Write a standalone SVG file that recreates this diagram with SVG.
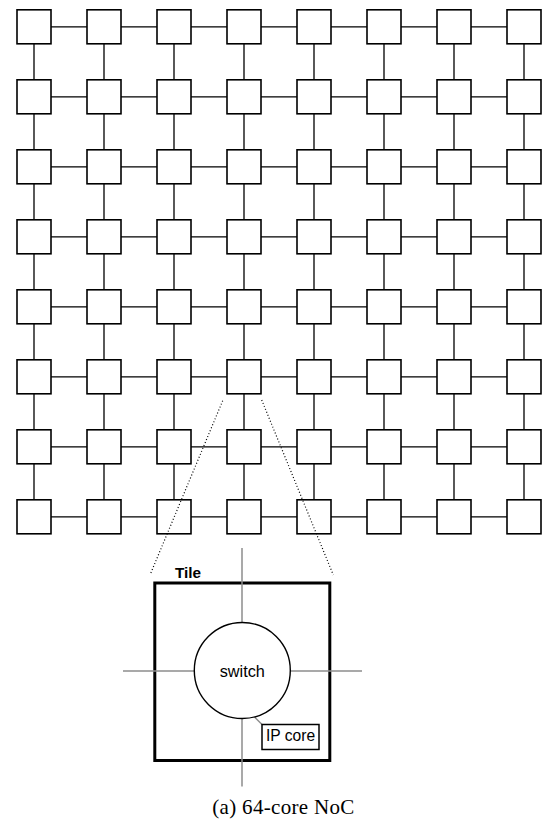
<svg xmlns="http://www.w3.org/2000/svg" xmlns:xlink="http://www.w3.org/1999/xlink" width="544" height="820" viewBox="0 0 544 820">
<style>
.sq{fill:#fff;stroke:#000;stroke-width:1.6}
.lk{fill:none;stroke:#000;stroke-width:1.3}
.dot{fill:none;stroke:#000;stroke-width:1.2;stroke-dasharray:1 2.2}
.gl{fill:none;stroke:#8c8c8c;stroke-width:1.5}
.sans{font-family:"Liberation Sans",Arial,sans-serif;fill:#000}
.serif{font-family:"Liberation Serif","Times New Roman",serif;fill:#000}
</style>
<defs>
<rect id="sq" class="sq" width="34" height="34"/>
<path id="hrow" d="M51,26.8H87M121,26.8H157M191,26.8H227M261,26.8H297M331,26.8H367M401,26.8H437M471,26.8H507"/>
<path id="vcol" d="M34,43.8V79.8M34,113.8V149.8M34,183.8V219.8M34,253.8V289.8M34,323.8V359.8M34,393.8V429.8M34,463.8V499.8"/>
</defs>
<g id="connectors" class="lk">
<use xlink:href="#hrow"/>
<use xlink:href="#hrow" y="70"/>
<use xlink:href="#hrow" y="140"/>
<use xlink:href="#hrow" y="210"/>
<use xlink:href="#hrow" y="280"/>
<use xlink:href="#hrow" y="350"/>
<use xlink:href="#hrow" y="420"/>
<use xlink:href="#hrow" y="490"/>
<use xlink:href="#vcol"/>
<use xlink:href="#vcol" x="70"/>
<use xlink:href="#vcol" x="140"/>
<use xlink:href="#vcol" x="210"/>
<use xlink:href="#vcol" x="280"/>
<use xlink:href="#vcol" x="350"/>
<use xlink:href="#vcol" x="420"/>
<use xlink:href="#vcol" x="490"/>
</g>
<g id="n0_0"><use xlink:href="#sq" x="17" y="9.8"/></g>
<g id="n0_1"><use xlink:href="#sq" x="87" y="9.8"/></g>
<g id="n0_2"><use xlink:href="#sq" x="157" y="9.8"/></g>
<g id="n0_3"><use xlink:href="#sq" x="227" y="9.8"/></g>
<g id="n0_4"><use xlink:href="#sq" x="297" y="9.8"/></g>
<g id="n0_5"><use xlink:href="#sq" x="367" y="9.8"/></g>
<g id="n0_6"><use xlink:href="#sq" x="437" y="9.8"/></g>
<g id="n0_7"><use xlink:href="#sq" x="507" y="9.8"/></g>
<g id="n1_0"><use xlink:href="#sq" x="17" y="79.8"/></g>
<g id="n1_1"><use xlink:href="#sq" x="87" y="79.8"/></g>
<g id="n1_2"><use xlink:href="#sq" x="157" y="79.8"/></g>
<g id="n1_3"><use xlink:href="#sq" x="227" y="79.8"/></g>
<g id="n1_4"><use xlink:href="#sq" x="297" y="79.8"/></g>
<g id="n1_5"><use xlink:href="#sq" x="367" y="79.8"/></g>
<g id="n1_6"><use xlink:href="#sq" x="437" y="79.8"/></g>
<g id="n1_7"><use xlink:href="#sq" x="507" y="79.8"/></g>
<g id="n2_0"><use xlink:href="#sq" x="17" y="149.8"/></g>
<g id="n2_1"><use xlink:href="#sq" x="87" y="149.8"/></g>
<g id="n2_2"><use xlink:href="#sq" x="157" y="149.8"/></g>
<g id="n2_3"><use xlink:href="#sq" x="227" y="149.8"/></g>
<g id="n2_4"><use xlink:href="#sq" x="297" y="149.8"/></g>
<g id="n2_5"><use xlink:href="#sq" x="367" y="149.8"/></g>
<g id="n2_6"><use xlink:href="#sq" x="437" y="149.8"/></g>
<g id="n2_7"><use xlink:href="#sq" x="507" y="149.8"/></g>
<g id="n3_0"><use xlink:href="#sq" x="17" y="219.8"/></g>
<g id="n3_1"><use xlink:href="#sq" x="87" y="219.8"/></g>
<g id="n3_2"><use xlink:href="#sq" x="157" y="219.8"/></g>
<g id="n3_3"><use xlink:href="#sq" x="227" y="219.8"/></g>
<g id="n3_4"><use xlink:href="#sq" x="297" y="219.8"/></g>
<g id="n3_5"><use xlink:href="#sq" x="367" y="219.8"/></g>
<g id="n3_6"><use xlink:href="#sq" x="437" y="219.8"/></g>
<g id="n3_7"><use xlink:href="#sq" x="507" y="219.8"/></g>
<g id="n4_0"><use xlink:href="#sq" x="17" y="289.8"/></g>
<g id="n4_1"><use xlink:href="#sq" x="87" y="289.8"/></g>
<g id="n4_2"><use xlink:href="#sq" x="157" y="289.8"/></g>
<g id="n4_3"><use xlink:href="#sq" x="227" y="289.8"/></g>
<g id="n4_4"><use xlink:href="#sq" x="297" y="289.8"/></g>
<g id="n4_5"><use xlink:href="#sq" x="367" y="289.8"/></g>
<g id="n4_6"><use xlink:href="#sq" x="437" y="289.8"/></g>
<g id="n4_7"><use xlink:href="#sq" x="507" y="289.8"/></g>
<g id="n5_0"><use xlink:href="#sq" x="17" y="359.8"/></g>
<g id="n5_1"><use xlink:href="#sq" x="87" y="359.8"/></g>
<g id="n5_2"><use xlink:href="#sq" x="157" y="359.8"/></g>
<g id="n5_3"><use xlink:href="#sq" x="227" y="359.8"/></g>
<g id="n5_4"><use xlink:href="#sq" x="297" y="359.8"/></g>
<g id="n5_5"><use xlink:href="#sq" x="367" y="359.8"/></g>
<g id="n5_6"><use xlink:href="#sq" x="437" y="359.8"/></g>
<g id="n5_7"><use xlink:href="#sq" x="507" y="359.8"/></g>
<g id="n6_0"><use xlink:href="#sq" x="17" y="429.8"/></g>
<g id="n6_1"><use xlink:href="#sq" x="87" y="429.8"/></g>
<g id="n6_2"><use xlink:href="#sq" x="157" y="429.8"/></g>
<g id="n6_3"><use xlink:href="#sq" x="227" y="429.8"/></g>
<g id="n6_4"><use xlink:href="#sq" x="297" y="429.8"/></g>
<g id="n6_5"><use xlink:href="#sq" x="367" y="429.8"/></g>
<g id="n6_6"><use xlink:href="#sq" x="437" y="429.8"/></g>
<g id="n6_7"><use xlink:href="#sq" x="507" y="429.8"/></g>
<g id="n7_0"><use xlink:href="#sq" x="17" y="499.8"/></g>
<g id="n7_1"><use xlink:href="#sq" x="87" y="499.8"/></g>
<g id="n7_2"><use xlink:href="#sq" x="157" y="499.8"/></g>
<g id="n7_3"><use xlink:href="#sq" x="227" y="499.8"/></g>
<g id="n7_4"><use xlink:href="#sq" x="297" y="499.8"/></g>
<g id="n7_5"><use xlink:href="#sq" x="367" y="499.8"/></g>
<g id="n7_6"><use xlink:href="#sq" x="437" y="499.8"/></g>
<g id="n7_7"><use xlink:href="#sq" x="507" y="499.8"/></g>
<g id="zoom-lines">
<line class="dot" x1="222.7" y1="400.7" x2="150" y2="575"/>
<line class="dot" x1="261.7" y1="400" x2="333.3" y2="575"/>
</g>
<g id="tile">
<rect x="154.8" y="583" width="175" height="177.5" fill="none" stroke="#000" stroke-width="3"/>
<text class="sans" x="175" y="578.3" font-size="15.3" font-weight="bold">Tile</text>
<line class="gl" x1="242" y1="548" x2="242" y2="786.5"/>
<line class="gl" x1="123" y1="671" x2="362" y2="671"/>
<line class="gl" x1="254" y1="716.5" x2="262" y2="724.5"/>
</g>
<g id="switch">
<circle cx="242.3" cy="670.5" r="48" fill="#fff" stroke="#000" stroke-width="1.4"/>
<text class="sans" x="242.3" y="677" font-size="16.3" text-anchor="middle">switch</text>
</g>
<g id="ipcore">
<rect x="262" y="724.5" width="57" height="25" fill="#fff" stroke="#000" stroke-width="1.5"/>
<text class="sans" x="290.5" y="740.8" font-size="15.6" text-anchor="middle">IP core</text>
</g>
<text class="serif" x="212.3" y="814.3" font-size="21" textLength="142" lengthAdjust="spacing">(a) 64-core NoC</text>
</svg>
